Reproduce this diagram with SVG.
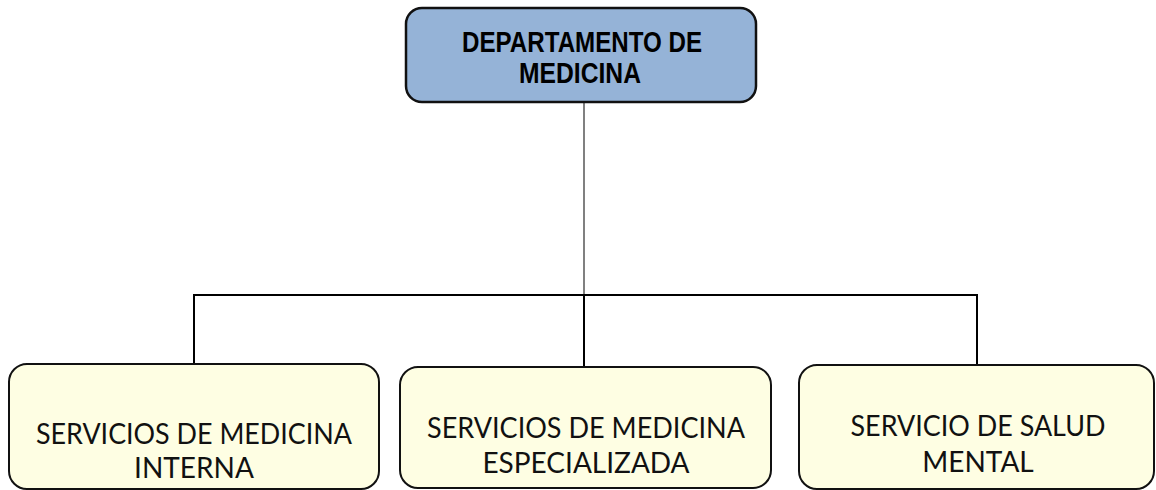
<svg xmlns="http://www.w3.org/2000/svg" width="1156" height="490" viewBox="0 0 1156 490">
<style>
.top{fill:#95b3d7;stroke:#111;stroke-width:2.5}
.box{fill:#fefee3;stroke:#111;stroke-width:2}
.tt{font-family:"Liberation Sans",Arial,sans-serif;font-weight:bold;font-size:29px;fill:#000;text-anchor:middle}
.bt{font-family:Lato,"Open Sans",sans-serif;font-size:28px;fill:#111;text-anchor:middle}
.ln{stroke:#000;stroke-width:2;fill:none}
</style>
<rect width="1156" height="490" fill="#fff"/>
<g id="connectors">
<line x1="584" y1="102" x2="584" y2="295" stroke="#808080" stroke-width="2"/>
<polyline class="ln" points="194,366 194,295 977,295 977,364"/>
<line class="ln" x1="584" y1="295" x2="584" y2="367"/>
</g>
<g id="node-departamento">
<rect class="top" x="406" y="8" width="350" height="94" rx="16"/>
<text class="tt" x="582" y="52" textLength="240" lengthAdjust="spacingAndGlyphs">DEPARTAMENTO DE</text>
<text class="tt" x="580" y="83" textLength="122" lengthAdjust="spacingAndGlyphs">MEDICINA</text>
</g>
<g id="node-interna">
<rect class="box" x="9" y="364" width="370" height="125" rx="18"/>
<text class="bt" x="194" y="444" textLength="316" lengthAdjust="spacingAndGlyphs">SERVICIOS DE MEDICINA</text>
<text class="bt" x="194" y="478">INTERNA</text>
</g>
<g id="node-especializada">
<rect class="box" x="400" y="367" width="371" height="121" rx="18"/>
<text class="bt" x="586" y="438" textLength="318" lengthAdjust="spacingAndGlyphs">SERVICIOS DE MEDICINA</text>
<text class="bt" x="586" y="473">ESPECIALIZADA</text>
</g>
<g id="node-salud">
<rect class="box" x="799" y="365" width="355" height="124" rx="18"/>
<text class="bt" x="978" y="436" textLength="255" lengthAdjust="spacingAndGlyphs">SERVICIO DE SALUD</text>
<text class="bt" x="978" y="472">MENTAL</text>
</g>
</svg>
